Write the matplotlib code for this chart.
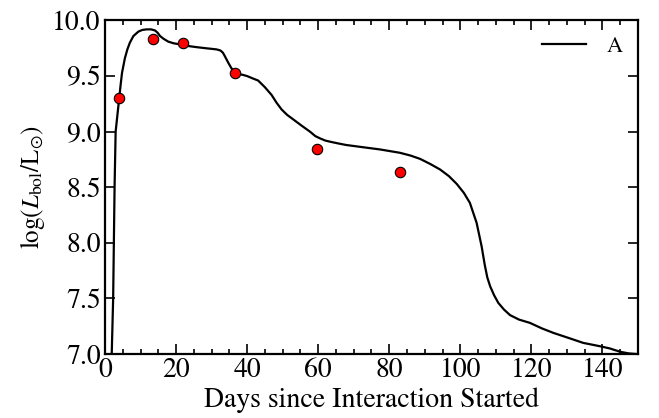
import numpy as np
from matplotlib import pyplot as plt
from matplotlib.ticker import MultipleLocator

plt.rcParams['font.family'] = 'STIXGeneral'
plt.rcParams['mathtext.fontset'] = 'stix'

# Model light curve (days, log L)
model_days = [1.9, 2.3, 2.5, 2.7, 3.0, 3.5, 4.0, 4.4, 4.8, 5.6, 6.3, 7.0, 8.0, 9.4,
              10.5, 11.7, 13.0, 14.1, 14.8, 15.5, 16.5, 17.8, 19.3, 21.1, 23.5,
              25.8, 28.5, 31.4, 32.5, 33.2, 33.8, 34.7, 35.6, 36.5, 37.5, 38.9,
              40.0, 41.5, 43.1, 45.0, 46.9, 48.3, 49.7, 51.3, 53.0, 55.3, 57.7,
              59.2, 60.5, 62.0, 63.3, 65.5, 67.9, 72.6, 77.4, 80.2, 83.0, 86.0,
              88.7, 91.5, 94.3, 96.8, 99.0, 101.0, 102.7, 104.6, 106.0, 106.9,
              107.6, 108.4, 109.5, 110.7, 112.3, 114.0, 116.5, 119.6, 123.0, 126.2,
              130.9, 134.6, 139.3, 142.1, 145.0, 147.5, 149.6]
model_logL = [7.0, 7.5, 8.0, 8.5, 9.0, 9.15, 9.30, 9.42, 9.53, 9.66, 9.74, 9.80,
              9.86, 9.90, 9.915, 9.92, 9.92, 9.91, 9.89, 9.86, 9.835, 9.81, 9.795,
              9.785, 9.77, 9.76, 9.75, 9.74, 9.73, 9.71, 9.675, 9.62, 9.57, 9.535,
              9.52, 9.51, 9.50, 9.48, 9.46, 9.40, 9.33, 9.26, 9.20, 9.15, 9.11,
              9.055, 9.0, 8.96, 8.94, 8.92, 8.91, 8.895, 8.88, 8.86, 8.84, 8.825,
              8.81, 8.785, 8.755, 8.71, 8.66, 8.60, 8.53, 8.45, 8.36, 8.18, 7.97,
              7.80, 7.69, 7.61, 7.53, 7.46, 7.40, 7.35, 7.31, 7.28, 7.23, 7.19,
              7.14, 7.10, 7.07, 7.05, 7.02, 7.005, 7.0]

# Observed points
obs_days = [4.0, 13.5, 22.0, 36.6, 59.7, 83.0]
obs_logL = [9.30, 9.83, 9.80, 9.53, 8.84, 8.64]

fig = plt.figure(figsize=(6.59, 4.18), dpi=100)
ax = fig.add_axes([0.1593, 0.1531, 0.8087, 0.7979])

ax.plot(model_days, model_logL, color='black', lw=1.6, label='A')
ax.plot(obs_days, obs_logL, 'o', color='red', mec='black', mew=0.8, ms=7.5)

ax.set_xlim(0, 150)
ax.set_ylim(7.0, 10.0)
ax.xaxis.set_major_locator(MultipleLocator(20))
ax.xaxis.set_minor_locator(MultipleLocator(5))
ax.yaxis.set_major_locator(MultipleLocator(0.5))
ax.yaxis.set_major_formatter(plt.FormatStrFormatter('%.1f'))

ax.tick_params(which='both', direction='in', top=True, right=True, width=1.2)
ax.tick_params(which='major', length=7, labelsize=20, pad=3)
ax.tick_params(which='minor', length=3.5)
ax.tick_params(axis='y', which='minor', left=False, right=False)
for s in ax.spines.values():
    s.set_linewidth(1.6)

ax.set_xlabel('Days since Interaction Started', fontsize=20, labelpad=3)
ax.set_ylabel(r'log($L_{\rm bol}$/L$_{\odot}$)', fontsize=18, labelpad=4)

ax.legend(loc='upper right', frameon=False, fontsize=16, handlelength=2.0,
          handletextpad=0.9, borderaxespad=0.3)

fig.savefig('out.png', dpi=100)
